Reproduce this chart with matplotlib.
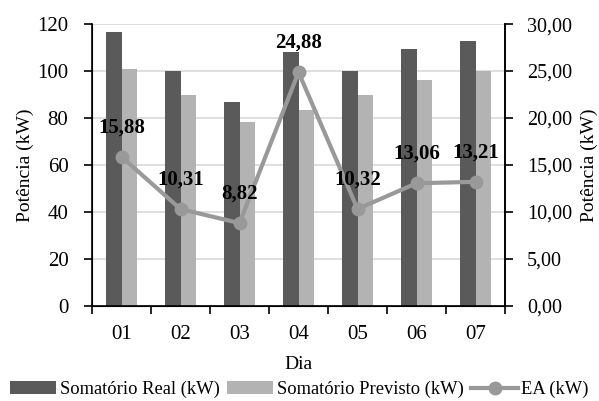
import matplotlib
matplotlib.use("Agg")
import matplotlib.pyplot as plt
import numpy as np
from matplotlib.ticker import FixedLocator, FuncFormatter

plt.rcParams['font.family'] = ['Liberation Serif', 'DejaVu Serif']

dias = ["01", "02", "03", "04", "05", "06", "07"]
real = [116.6, 100.0, 87.0, 108.0, 100.0, 109.3, 112.8]
previsto = [101.0, 89.6, 78.2, 83.5, 89.6, 96.2, 100.0]
ea = [15.88, 10.31, 8.82, 24.88, 10.32, 13.06, 13.21]
ea_labels = ["15,88", "10,31", "8,82", "24,88", "10,32", "13,06", "13,21"]

fig = plt.figure(figsize=(5.99, 4.01), dpi=100)
ax = fig.add_axes([0.1536, 0.237, 0.6895, 0.703])
x = np.arange(len(dias))
w = 0.26
b1 = ax.bar(x - w/2, real, w, color="#5a5a5a", label="Somatório Real (kW)", zorder=2)
b2 = ax.bar(x + w/2, previsto, w, color="#b3b3b3", label="Somatório Previsto (kW)", zorder=2)
ax.set_ylim(0, 120)
ax.set_xlim(-0.5, len(dias) - 0.5)
ax.set_yticks(np.arange(0, 121, 20))
ax.yaxis.grid(True, color="#d9d9d9", linewidth=1.2, zorder=0)
ax.set_axisbelow(True)
ax.xaxis.set_major_locator(FixedLocator(np.arange(-0.5, len(dias), 1.0)))
ax.xaxis.set_major_formatter(FuncFormatter(lambda v, p: ""))
ax.xaxis.set_minor_locator(FixedLocator(x))
ax.set_xticklabels(dias, minor=True)
ax.tick_params(axis='x', which='minor', length=0, pad=14, labelsize=15)
ax.tick_params(axis='x', which='major', length=6, width=1.2, direction='out')
ax.tick_params(axis='y', length=6, width=1.2, labelsize=15, pad=11)
ax.spines["top"].set_visible(False)
for s in ["left", "bottom", "right"]:
    ax.spines[s].set_linewidth(1.2)
ax.set_ylabel("Potência (kW)", fontsize=14, labelpad=2)
ax.set_xlabel("Dia", fontsize=14, labelpad=8)

ax2 = ax.twinx()
ln, = ax2.plot(x, ea, color="#999999", linewidth=3, marker="o", markersize=9,
               label="EA (kW)", zorder=3)
ax2.set_ylim(0, 30)
ax2.set_yticks(np.arange(0, 30.1, 5))
ax2.yaxis.set_major_formatter(FuncFormatter(lambda v, p: f"{v:.2f}".replace(".", ",")))
ax2.tick_params(axis='y', length=6, width=1.2, labelsize=14.5, pad=10)
ax2.spines["top"].set_visible(False)
ax2.spines["right"].set_linewidth(1.2)
ax2.set_ylabel("Potência (kW)", fontsize=14, rotation=90)
ax2.yaxis.set_label_coords(1.183, 0.5)
for xi, yi, t in zip(x, ea, ea_labels):
    ax2.annotate(t, (xi, yi), xytext=(0, 14), textcoords="offset points",
                 ha="center", va="bottom", fontsize=15, fontweight="bold", zorder=4)

fig.legend([b1, b2, ln], ["Somatório Real (kW)", "Somatório Previsto (kW)", "EA (kW)"],
           loc="center", bbox_to_anchor=(0.5, 0.028), ncol=3, frameon=False,
           fontsize=13.3, handlelength=2.5, columnspacing=0.4, handletextpad=0.2,
           borderaxespad=0, borderpad=0)
fig.savefig("out.png", dpi=100)
